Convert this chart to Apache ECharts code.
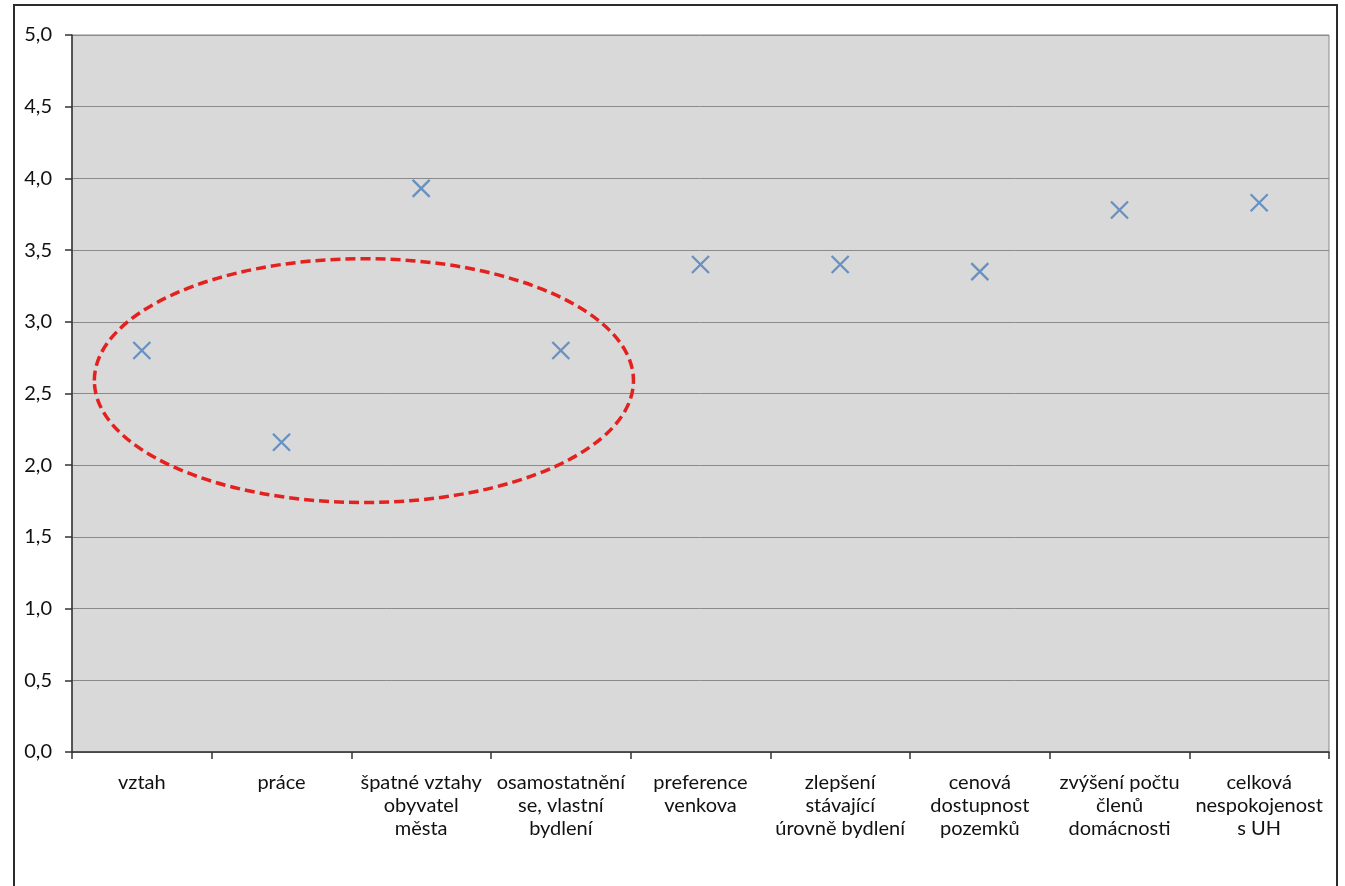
<!DOCTYPE html>
<html>
<head>
<meta charset="utf-8">
<script src="https://cdn.jsdelivr.net/npm/echarts@6/dist/echarts.min.js"></script>
<style>
html,body{margin:0;padding:0;background:#fff;}
#c{width:1345px;height:886px;}
</style>
</head>
<body>
<div id="c"></div>
<script>
var categories = [
  "vztah",
  "práce",
  "špatné vztahy\nobyvatel\nměsta",
  "osamostatnění\nse, vlastní\nbydlení",
  "preference\nvenkova",
  "zlepšení\nstávající\núrovně bydlení",
  "cenová\ndostupnost\npozemků",
  "zvýšení počtu\nčlenů\ndomácnosti",
  "celková\nnespokojenost\ns UH"
];
var values = [2.80, 2.16, 3.93, 2.80, 3.40, 3.40, 3.35, 3.78, 3.83];
var yMin = 0, yMax = 5, yStep = 0.5;
// highlighted group (annotation ellipse): center in category-index / value units, radii
var ellipseCenter = [1.59, 2.59];
var ellipseRadius = [1.93, 0.85];

var chart = echarts.init(document.getElementById('c'), null, {renderer:'canvas'});
var FONT = 'Lato';
var option = {
  animation: false,
  backgroundColor: '#ffffff',
  grid: {
    left: 72, right: 16, top: 35, bottom: 134,
    show: true, backgroundColor: '#d9d9d9', borderColor: '#8a8a8a', borderWidth: 1
  },
  xAxis: {
    type: 'category',
    data: categories,
    boundaryGap: true,
    axisLine: {show: true, lineStyle: {color: '#333', width: 1.5}},
    axisTick: {show: true, length: 7, interval: 0, lineStyle: {color: '#333', width: 1.5}},
    axisLabel: {interval: 0, color: '#111', fontSize: 20, fontFamily: FONT, lineHeight: 23, margin: 19, align: 'center'},
    splitLine: {show: false}
  },
  yAxis: {
    type: 'value',
    min: yMin, max: yMax, interval: yStep,
    axisLine: {show: true, lineStyle: {color: '#333', width: 1.5}},
    axisTick: {show: true, length: 7, lineStyle: {color: '#333', width: 1.5}},
    axisLabel: {color: '#111', fontSize: 20, fontFamily: FONT, margin: 20,
      formatter: function(v){ return v.toFixed(1).replace('.', ','); }},
    splitLine: {show: true, lineStyle: {color: '#8a8a8a', width: 1}}
  },
  series: [{
    type: 'scatter',
    data: values,
    symbol: 'path://M0,0L10,10M10,0L0,10',
    symbolSize: 17,
    itemStyle: {color: 'rgba(0,0,0,0)', borderColor: '#4a7ebb', borderWidth: 2.3}
  }]
};
chart.setOption(option);

function drawOverlay(){
  var p0 = chart.convertToPixel({xAxisIndex:0}, 0);
  var p1 = chart.convertToPixel({xAxisIndex:0}, 1);
  var band = p1 - p0;
  var cx = p0 + ellipseCenter[0]*band;
  var cy = chart.convertToPixel({yAxisIndex:0}, ellipseCenter[1]);
  var rx = ellipseRadius[0]*band;
  var ry = Math.abs(chart.convertToPixel({yAxisIndex:0}, ellipseCenter[1]+ellipseRadius[1]) - cy);
  chart.setOption({
    graphic: [
      {type:'ellipse', shape:{cx:cx, cy:cy, rx:rx, ry:ry},
       style:{fill:null, stroke:'#e3221f', lineWidth:3.5, lineDash:[10,5]}, z:100},
      {type:'rect', shape:{x:14, y:5, width:1323, height:890},
       style:{fill:null, stroke:'#2b2b2b', lineWidth:2}, z:100}
    ]
  });
}
drawOverlay();
</script>
</body>
</html>
